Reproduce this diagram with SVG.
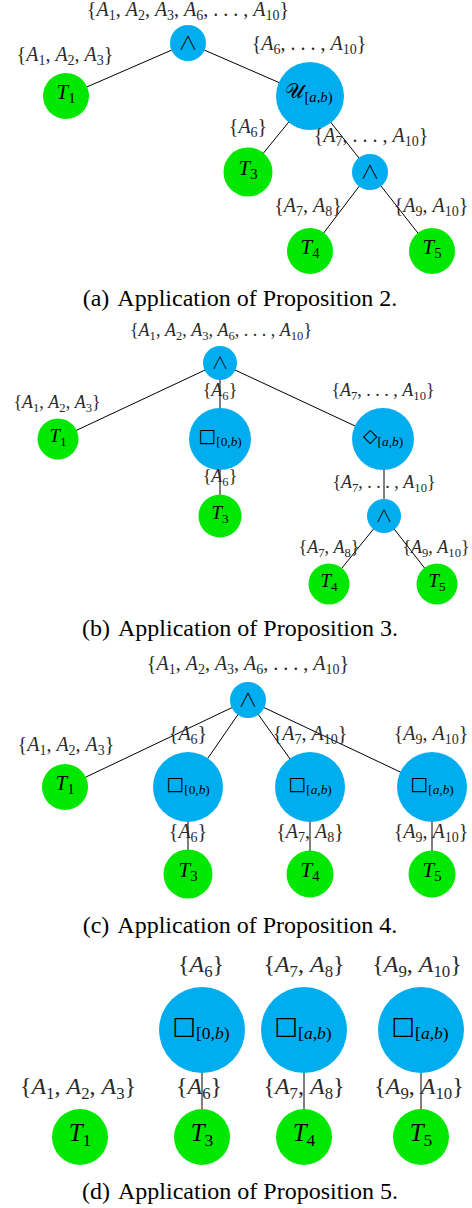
<svg xmlns="http://www.w3.org/2000/svg" width="472" height="1208" viewBox="0 0 472 1208">
<style>
.g{fill:#00E800}
.b{fill:#00AEEF}
.e line{stroke:#000;stroke-width:1}
text{font-family:"Liberation Serif","Times New Roman",serif;text-anchor:middle}
.lb{fill:#2a2a2a}
.la{font-size:20px}
.l2{font-size:18px}
.l4{font-size:24px}
.i{font-style:italic}
.s{font-size:70%}
.nt{fill:#000}
.sym{font-family:"Noto Sans CJK JP","DejaVu Serif",serif;font-weight:300}
.scr{font-family:"DejaVu Serif",serif}
.box{font-family:"DejaVu Sans",sans-serif}
.cap{font-size:24px;fill:#000}
</style>

<!-- connectors -->
<g id="connectors" class="e">
  <line x1="188" y1="43" x2="66" y2="96"/>
  <line x1="188" y1="43" x2="310" y2="96"/>
  <line x1="310" y1="96" x2="248" y2="172"/>
  <line x1="310" y1="96" x2="370" y2="172"/>
  <line x1="370" y1="172" x2="310" y2="251"/>
  <line x1="370" y1="172" x2="432" y2="251"/>

  <line x1="220" y1="363" x2="58" y2="439"/>
  <line x1="220" y1="363" x2="220" y2="439"/>
  <line x1="220" y1="363" x2="383" y2="439"/>
  <line x1="220" y1="439" x2="220" y2="516"/>
  <line x1="384" y1="439" x2="384" y2="516"/>
  <line x1="384" y1="516" x2="329" y2="584"/>
  <line x1="384" y1="516" x2="437" y2="584"/>

  <line x1="248" y1="700" x2="65" y2="787"/>
  <line x1="248" y1="700" x2="188" y2="787"/>
  <line x1="248" y1="700" x2="310" y2="787"/>
  <line x1="248" y1="700" x2="432" y2="787"/>
  <line x1="188" y1="787" x2="188" y2="874"/>
  <line x1="310" y1="787" x2="310" y2="874"/>
  <line x1="432" y1="787" x2="432" y2="874"/>

  <line x1="202" y1="1030" x2="202" y2="1137"/>
  <line x1="304" y1="1030" x2="304" y2="1137"/>
  <line x1="421" y1="1030" x2="421" y2="1137"/>
</g>

<!-- panel (a) -->
<g id="a_root"><circle class="b" cx="188" cy="43" r="18"/><text class="nt sym" x="188" y="50" font-size="19">∧</text></g>
<g id="a_T1"><circle class="g" cx="66" cy="96" r="23"/><text class="nt" x="66" y="99" font-size="21"><tspan class="i">T</tspan><tspan class="s" dy="4">1</tspan></text></g>
<g id="a_U"><circle class="b" cx="310" cy="96" r="34"/><text class="nt" x="309" y="98" font-size="21"><tspan class="scr">𝒰</tspan><tspan class="s" dy="4">[<tspan class="i">a</tspan>,<tspan class="i">b</tspan>)</tspan></text></g>
<g id="a_T3"><circle class="g" cx="248" cy="172" r="24.5"/><text class="nt" x="248" y="175" font-size="21"><tspan class="i">T</tspan><tspan class="s" dy="4">3</tspan></text></g>
<g id="a_and"><circle class="b" cx="370" cy="172" r="18"/><text class="nt sym" x="370" y="179" font-size="19">∧</text></g>
<g id="a_T4"><circle class="g" cx="310" cy="251" r="23"/><text class="nt" x="310" y="254" font-size="21"><tspan class="i">T</tspan><tspan class="s" dy="4">4</tspan></text></g>
<g id="a_T5"><circle class="g" cx="432" cy="251" r="23"/><text class="nt" x="432" y="254" font-size="21"><tspan class="i">T</tspan><tspan class="s" dy="4">5</tspan></text></g>
<g id="a_labels" class="lb la">
  <text x="188" y="16">{<tspan class="i">A</tspan><tspan class="s" dy="4">1</tspan><tspan dy="-4">, </tspan><tspan class="i">A</tspan><tspan class="s" dy="4">2</tspan><tspan dy="-4">, </tspan><tspan class="i">A</tspan><tspan class="s" dy="4">3</tspan><tspan dy="-4">, </tspan><tspan class="i">A</tspan><tspan class="s" dy="4">6</tspan><tspan dy="-4">, . . . , </tspan><tspan class="i">A</tspan><tspan class="s" dy="4">10</tspan><tspan dy="-4">}</tspan></text>
  <text x="65" y="61">{<tspan class="i">A</tspan><tspan class="s" dy="4">1</tspan><tspan dy="-4">, </tspan><tspan class="i">A</tspan><tspan class="s" dy="4">2</tspan><tspan dy="-4">, </tspan><tspan class="i">A</tspan><tspan class="s" dy="4">3</tspan><tspan dy="-4">}</tspan></text>
  <text x="309" y="50">{<tspan class="i">A</tspan><tspan class="s" dy="4">6</tspan><tspan dy="-4">, . . . , </tspan><tspan class="i">A</tspan><tspan class="s" dy="4">10</tspan><tspan dy="-4">}</tspan></text>
  <text x="248" y="133">{<tspan class="i">A</tspan><tspan class="s" dy="4">6</tspan><tspan dy="-4">}</tspan></text>
  <text x="371" y="142">{<tspan class="i">A</tspan><tspan class="s" dy="4">7</tspan><tspan dy="-4">, . . . , </tspan><tspan class="i">A</tspan><tspan class="s" dy="4">10</tspan><tspan dy="-4">}</tspan></text>
  <text x="308" y="212">{<tspan class="i">A</tspan><tspan class="s" dy="4">7</tspan><tspan dy="-4">, </tspan><tspan class="i">A</tspan><tspan class="s" dy="4">8</tspan><tspan dy="-4">}</tspan></text>
  <text x="431" y="212">{<tspan class="i">A</tspan><tspan class="s" dy="4">9</tspan><tspan dy="-4">, </tspan><tspan class="i">A</tspan><tspan class="s" dy="4">10</tspan><tspan dy="-4">}</tspan></text>
</g>
<text class="cap" x="240" y="306">(a)<tspan dx="8">Application of Proposition 2.</tspan></text>

<!-- panel (b) -->
<g id="b_root"><circle class="b" cx="220" cy="363" r="17"/><text class="nt sym" x="220" y="369" font-size="17">∧</text></g>
<g id="b_T1"><circle class="g" cx="58" cy="439" r="20.5"/><text class="nt" x="58" y="442" font-size="19"><tspan class="i">T</tspan><tspan class="s" dy="3.5">1</tspan></text></g>
<g id="b_G"><circle class="b" cx="220" cy="439" r="31"/><text class="nt" x="220" y="442" font-size="19"><tspan class="box">□</tspan><tspan class="s" dy="3.5">[0,<tspan class="i">b</tspan>)</tspan></text></g>
<g id="b_F"><circle class="b" cx="383" cy="439" r="31"/><text class="nt" x="383" y="442" font-size="19"><tspan class="box">◇</tspan><tspan class="s" dy="3.5">[<tspan class="i">a</tspan>,<tspan class="i">b</tspan>)</tspan></text></g>
<g id="b_T3"><circle class="g" cx="220" cy="516" r="21.5"/><text class="nt" x="220" y="519" font-size="19"><tspan class="i">T</tspan><tspan class="s" dy="3.5">3</tspan></text></g>
<g id="b_and"><circle class="b" cx="384" cy="516" r="17"/><text class="nt sym" x="384" y="522" font-size="17">∧</text></g>
<g id="b_T4"><circle class="g" cx="329" cy="584" r="20.5"/><text class="nt" x="329" y="587" font-size="19"><tspan class="i">T</tspan><tspan class="s" dy="3.5">4</tspan></text></g>
<g id="b_T5"><circle class="g" cx="437" cy="584" r="20.5"/><text class="nt" x="437" y="587" font-size="19"><tspan class="i">T</tspan><tspan class="s" dy="3.5">5</tspan></text></g>
<g id="b_labels" class="lb l2">
  <text x="221" y="336">{<tspan class="i">A</tspan><tspan class="s" dy="3.5">1</tspan><tspan dy="-3.5">, </tspan><tspan class="i">A</tspan><tspan class="s" dy="3.5">2</tspan><tspan dy="-3.5">, </tspan><tspan class="i">A</tspan><tspan class="s" dy="3.5">3</tspan><tspan dy="-3.5">, </tspan><tspan class="i">A</tspan><tspan class="s" dy="3.5">6</tspan><tspan dy="-3.5">, . . . , </tspan><tspan class="i">A</tspan><tspan class="s" dy="3.5">10</tspan><tspan dy="-3.5">}</tspan></text>
  <text x="57" y="408">{<tspan class="i">A</tspan><tspan class="s" dy="3.5">1</tspan><tspan dy="-3.5">, </tspan><tspan class="i">A</tspan><tspan class="s" dy="3.5">2</tspan><tspan dy="-3.5">, </tspan><tspan class="i">A</tspan><tspan class="s" dy="3.5">3</tspan><tspan dy="-3.5">}</tspan></text>
  <text x="220" y="396">{<tspan class="i">A</tspan><tspan class="s" dy="3.5">6</tspan><tspan dy="-3.5">}</tspan></text>
  <text x="383" y="396">{<tspan class="i">A</tspan><tspan class="s" dy="3.5">7</tspan><tspan dy="-3.5">, . . . , </tspan><tspan class="i">A</tspan><tspan class="s" dy="3.5">10</tspan><tspan dy="-3.5">}</tspan></text>
  <text x="220" y="482">{<tspan class="i">A</tspan><tspan class="s" dy="3.5">6</tspan><tspan dy="-3.5">}</tspan></text>
  <text x="384" y="488">{<tspan class="i">A</tspan><tspan class="s" dy="3.5">7</tspan><tspan dy="-3.5">, . . . , </tspan><tspan class="i">A</tspan><tspan class="s" dy="3.5">10</tspan><tspan dy="-3.5">}</tspan></text>
  <text x="329" y="553">{<tspan class="i">A</tspan><tspan class="s" dy="3.5">7</tspan><tspan dy="-3.5">, </tspan><tspan class="i">A</tspan><tspan class="s" dy="3.5">8</tspan><tspan dy="-3.5">}</tspan></text>
  <text x="436" y="553">{<tspan class="i">A</tspan><tspan class="s" dy="3.5">9</tspan><tspan dy="-3.5">, </tspan><tspan class="i">A</tspan><tspan class="s" dy="3.5">10</tspan><tspan dy="-3.5">}</tspan></text>
</g>
<text class="cap" x="240" y="636">(b)<tspan dx="8">Application of Proposition 3.</tspan></text>

<!-- panel (c) -->
<g id="c_root"><circle class="b" cx="248" cy="700" r="18"/><text class="nt sym" x="248" y="707" font-size="19">∧</text></g>
<g id="c_T1"><circle class="g" cx="65" cy="787" r="23"/><text class="nt" x="65" y="790" font-size="21"><tspan class="i">T</tspan><tspan class="s" dy="4">1</tspan></text></g>
<g id="c_G1"><circle class="b" cx="188" cy="787" r="35"/><text class="nt" x="188" y="790" font-size="19"><tspan class="box">□</tspan><tspan class="s" dy="3.5">[0,<tspan class="i">b</tspan>)</tspan></text></g>
<g id="c_G2"><circle class="b" cx="310" cy="787" r="35"/><text class="nt" x="310" y="790" font-size="19"><tspan class="box">□</tspan><tspan class="s" dy="3.5">[<tspan class="i">a</tspan>,<tspan class="i">b</tspan>)</tspan></text></g>
<g id="c_G3"><circle class="b" cx="432" cy="787" r="35"/><text class="nt" x="432" y="790" font-size="19"><tspan class="box">□</tspan><tspan class="s" dy="3.5">[<tspan class="i">a</tspan>,<tspan class="i">b</tspan>)</tspan></text></g>
<g id="c_T3"><circle class="g" cx="188" cy="874" r="24.5"/><text class="nt" x="188" y="877" font-size="21"><tspan class="i">T</tspan><tspan class="s" dy="4">3</tspan></text></g>
<g id="c_T4"><circle class="g" cx="310" cy="874" r="23.5"/><text class="nt" x="310" y="877" font-size="21"><tspan class="i">T</tspan><tspan class="s" dy="4">4</tspan></text></g>
<g id="c_T5"><circle class="g" cx="432" cy="874" r="23.5"/><text class="nt" x="432" y="877" font-size="21"><tspan class="i">T</tspan><tspan class="s" dy="4">5</tspan></text></g>
<g id="c_labels" class="lb la">
  <text x="248" y="670">{<tspan class="i">A</tspan><tspan class="s" dy="4">1</tspan><tspan dy="-4">, </tspan><tspan class="i">A</tspan><tspan class="s" dy="4">2</tspan><tspan dy="-4">, </tspan><tspan class="i">A</tspan><tspan class="s" dy="4">3</tspan><tspan dy="-4">, </tspan><tspan class="i">A</tspan><tspan class="s" dy="4">6</tspan><tspan dy="-4">, . . . , </tspan><tspan class="i">A</tspan><tspan class="s" dy="4">10</tspan><tspan dy="-4">}</tspan></text>
  <text x="66" y="751">{<tspan class="i">A</tspan><tspan class="s" dy="4">1</tspan><tspan dy="-4">, </tspan><tspan class="i">A</tspan><tspan class="s" dy="4">2</tspan><tspan dy="-4">, </tspan><tspan class="i">A</tspan><tspan class="s" dy="4">3</tspan><tspan dy="-4">}</tspan></text>
  <text x="188" y="740">{<tspan class="i">A</tspan><tspan class="s" dy="4">6</tspan><tspan dy="-4">}</tspan></text>
  <text x="310" y="740">{<tspan class="i">A</tspan><tspan class="s" dy="4">7</tspan><tspan dy="-4">, </tspan><tspan class="i">A</tspan><tspan class="s" dy="4">10</tspan><tspan dy="-4">}</tspan></text>
  <text x="431" y="740">{<tspan class="i">A</tspan><tspan class="s" dy="4">9</tspan><tspan dy="-4">, </tspan><tspan class="i">A</tspan><tspan class="s" dy="4">10</tspan><tspan dy="-4">}</tspan></text>
  <text x="188" y="838">{<tspan class="i">A</tspan><tspan class="s" dy="4">6</tspan><tspan dy="-4">}</tspan></text>
  <text x="310" y="838">{<tspan class="i">A</tspan><tspan class="s" dy="4">7</tspan><tspan dy="-4">, </tspan><tspan class="i">A</tspan><tspan class="s" dy="4">8</tspan><tspan dy="-4">}</tspan></text>
  <text x="431" y="838">{<tspan class="i">A</tspan><tspan class="s" dy="4">9</tspan><tspan dy="-4">, </tspan><tspan class="i">A</tspan><tspan class="s" dy="4">10</tspan><tspan dy="-4">}</tspan></text>
</g>
<text class="cap" x="240" y="933">(c)<tspan dx="8">Application of Proposition 4.</tspan></text>

<!-- panel (d) -->
<g id="d_G1"><circle class="b" cx="202" cy="1030" r="43"/><text class="nt" x="201" y="1034" font-size="25"><tspan class="box">□</tspan><tspan class="s" dy="5">[0,<tspan class="i">b</tspan>)</tspan></text></g>
<g id="d_G2"><circle class="b" cx="304" cy="1030" r="43"/><text class="nt" x="303" y="1034" font-size="25"><tspan class="box">□</tspan><tspan class="s" dy="5">[<tspan class="i">a</tspan>,<tspan class="i">b</tspan>)</tspan></text></g>
<g id="d_G3"><circle class="b" cx="421" cy="1030" r="43"/><text class="nt" x="420" y="1034" font-size="25"><tspan class="box">□</tspan><tspan class="s" dy="5">[<tspan class="i">a</tspan>,<tspan class="i">b</tspan>)</tspan></text></g>
<g id="d_T1"><circle class="g" cx="80" cy="1137" r="28"/><text class="nt" x="80" y="1141" font-size="25"><tspan class="i">T</tspan><tspan class="s" dy="5">1</tspan></text></g>
<g id="d_T3"><circle class="g" cx="202" cy="1137" r="28"/><text class="nt" x="202" y="1141" font-size="25"><tspan class="i">T</tspan><tspan class="s" dy="5">3</tspan></text></g>
<g id="d_T4"><circle class="g" cx="304" cy="1137" r="28"/><text class="nt" x="304" y="1141" font-size="25"><tspan class="i">T</tspan><tspan class="s" dy="5">4</tspan></text></g>
<g id="d_T5"><circle class="g" cx="421" cy="1137" r="28"/><text class="nt" x="421" y="1141" font-size="25"><tspan class="i">T</tspan><tspan class="s" dy="5">5</tspan></text></g>
<g id="d_labels" class="lb l4">
  <text x="201" y="972">{<tspan class="i">A</tspan><tspan class="s" dy="5">6</tspan><tspan dy="-5">}</tspan></text>
  <text x="304" y="972">{<tspan class="i">A</tspan><tspan class="s" dy="5">7</tspan><tspan dy="-5">, </tspan><tspan class="i">A</tspan><tspan class="s" dy="5">8</tspan><tspan dy="-5">}</tspan></text>
  <text x="417" y="972">{<tspan class="i">A</tspan><tspan class="s" dy="5">9</tspan><tspan dy="-5">, </tspan><tspan class="i">A</tspan><tspan class="s" dy="5">10</tspan><tspan dy="-5">}</tspan></text>
  <text x="78" y="1094">{<tspan class="i">A</tspan><tspan class="s" dy="5">1</tspan><tspan dy="-5">, </tspan><tspan class="i">A</tspan><tspan class="s" dy="5">2</tspan><tspan dy="-5">, </tspan><tspan class="i">A</tspan><tspan class="s" dy="5">3</tspan><tspan dy="-5">}</tspan></text>
  <text x="199" y="1094">{<tspan class="i">A</tspan><tspan class="s" dy="5">6</tspan><tspan dy="-5">}</tspan></text>
  <text x="304" y="1094">{<tspan class="i">A</tspan><tspan class="s" dy="5">7</tspan><tspan dy="-5">, </tspan><tspan class="i">A</tspan><tspan class="s" dy="5">8</tspan><tspan dy="-5">}</tspan></text>
  <text x="419" y="1094">{<tspan class="i">A</tspan><tspan class="s" dy="5">9</tspan><tspan dy="-5">, </tspan><tspan class="i">A</tspan><tspan class="s" dy="5">10</tspan><tspan dy="-5">}</tspan></text>
</g>
<text class="cap" x="240" y="1199">(d)<tspan dx="8">Application of Proposition 5.</tspan></text>
</svg>
